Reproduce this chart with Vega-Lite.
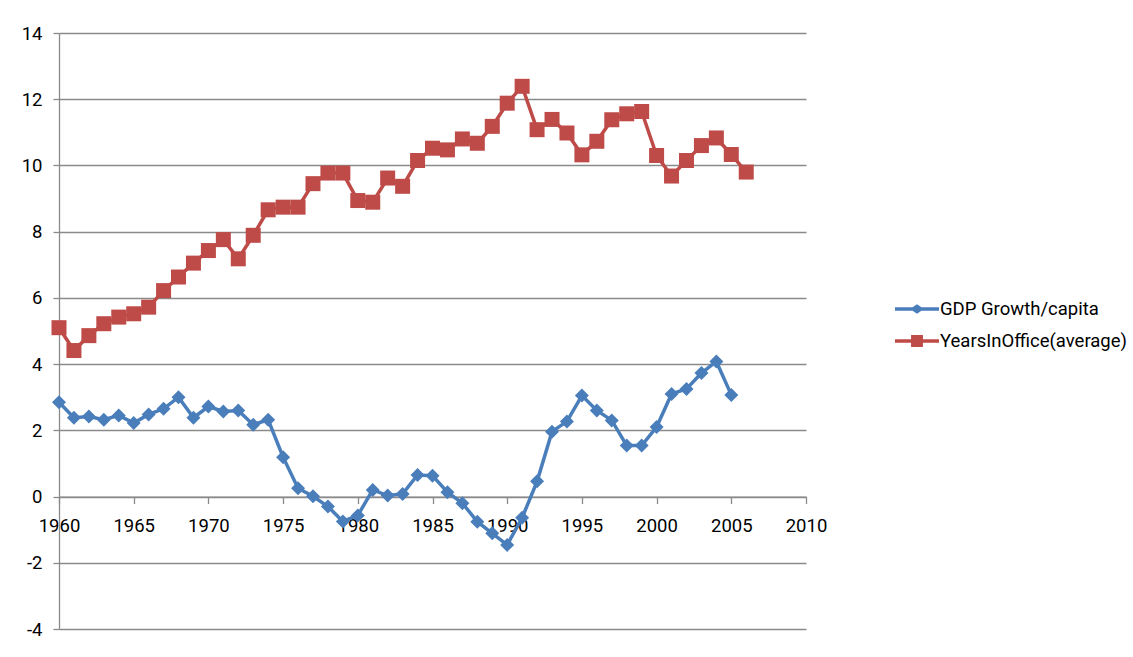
{
  "$schema": "https://vega.github.io/schema/vega-lite/v6.json",
  "autosize": "none",
  "width": 747,
  "height": 596,
  "padding": {"left": 59, "top": 33, "right": 327, "bottom": 28},
  "background": "white",
  "config": {
    "view": {"stroke": null},
    "font": "Roboto",
    "axis": {"labelFont": "Roboto", "labelFontSize": 18.5, "labelColor": "#000000", "domainColor": "#8a8a8a", "tickColor": "#8a8a8a", "gridColor": "#8a8a8a", "domainWidth": 1.3, "tickWidth": 1.3, "gridWidth": 1.3, "title": null}
  },
  "data": {"values": [
    {"year":1960,"series":"GDP Growth/capita","value":2.85},
    {"year":1961,"series":"GDP Growth/capita","value":2.38},
    {"year":1962,"series":"GDP Growth/capita","value":2.42},
    {"year":1963,"series":"GDP Growth/capita","value":2.32},
    {"year":1964,"series":"GDP Growth/capita","value":2.45},
    {"year":1965,"series":"GDP Growth/capita","value":2.22},
    {"year":1966,"series":"GDP Growth/capita","value":2.48},
    {"year":1967,"series":"GDP Growth/capita","value":2.65},
    {"year":1968,"series":"GDP Growth/capita","value":3.0},
    {"year":1969,"series":"GDP Growth/capita","value":2.38},
    {"year":1970,"series":"GDP Growth/capita","value":2.72},
    {"year":1971,"series":"GDP Growth/capita","value":2.57},
    {"year":1972,"series":"GDP Growth/capita","value":2.6},
    {"year":1973,"series":"GDP Growth/capita","value":2.17},
    {"year":1974,"series":"GDP Growth/capita","value":2.32},
    {"year":1975,"series":"GDP Growth/capita","value":1.19},
    {"year":1976,"series":"GDP Growth/capita","value":0.25},
    {"year":1977,"series":"GDP Growth/capita","value":0.01},
    {"year":1978,"series":"GDP Growth/capita","value":-0.3},
    {"year":1979,"series":"GDP Growth/capita","value":-0.75},
    {"year":1980,"series":"GDP Growth/capita","value":-0.57},
    {"year":1981,"series":"GDP Growth/capita","value":0.2},
    {"year":1982,"series":"GDP Growth/capita","value":0.03},
    {"year":1983,"series":"GDP Growth/capita","value":0.08},
    {"year":1984,"series":"GDP Growth/capita","value":0.65},
    {"year":1985,"series":"GDP Growth/capita","value":0.63},
    {"year":1986,"series":"GDP Growth/capita","value":0.13},
    {"year":1987,"series":"GDP Growth/capita","value":-0.2},
    {"year":1988,"series":"GDP Growth/capita","value":-0.76},
    {"year":1989,"series":"GDP Growth/capita","value":-1.11},
    {"year":1990,"series":"GDP Growth/capita","value":-1.46},
    {"year":1991,"series":"GDP Growth/capita","value":-0.64},
    {"year":1992,"series":"GDP Growth/capita","value":0.46},
    {"year":1993,"series":"GDP Growth/capita","value":1.96},
    {"year":1994,"series":"GDP Growth/capita","value":2.27},
    {"year":1995,"series":"GDP Growth/capita","value":3.05},
    {"year":1996,"series":"GDP Growth/capita","value":2.6},
    {"year":1997,"series":"GDP Growth/capita","value":2.3},
    {"year":1998,"series":"GDP Growth/capita","value":1.54},
    {"year":1999,"series":"GDP Growth/capita","value":1.54},
    {"year":2000,"series":"GDP Growth/capita","value":2.1},
    {"year":2001,"series":"GDP Growth/capita","value":3.1},
    {"year":2002,"series":"GDP Growth/capita","value":3.25},
    {"year":2003,"series":"GDP Growth/capita","value":3.73},
    {"year":2004,"series":"GDP Growth/capita","value":4.08},
    {"year":2005,"series":"GDP Growth/capita","value":3.07},
    {"year":1960,"series":"YearsInOffice(average)","value":5.1},
    {"year":1961,"series":"YearsInOffice(average)","value":4.41},
    {"year":1962,"series":"YearsInOffice(average)","value":4.86},
    {"year":1963,"series":"YearsInOffice(average)","value":5.22},
    {"year":1964,"series":"YearsInOffice(average)","value":5.42},
    {"year":1965,"series":"YearsInOffice(average)","value":5.52},
    {"year":1966,"series":"YearsInOffice(average)","value":5.72},
    {"year":1967,"series":"YearsInOffice(average)","value":6.22},
    {"year":1968,"series":"YearsInOffice(average)","value":6.63},
    {"year":1969,"series":"YearsInOffice(average)","value":7.05},
    {"year":1970,"series":"YearsInOffice(average)","value":7.43},
    {"year":1971,"series":"YearsInOffice(average)","value":7.76},
    {"year":1972,"series":"YearsInOffice(average)","value":7.18},
    {"year":1973,"series":"YearsInOffice(average)","value":7.89},
    {"year":1974,"series":"YearsInOffice(average)","value":8.66},
    {"year":1975,"series":"YearsInOffice(average)","value":8.74},
    {"year":1976,"series":"YearsInOffice(average)","value":8.74},
    {"year":1977,"series":"YearsInOffice(average)","value":9.45},
    {"year":1978,"series":"YearsInOffice(average)","value":9.77},
    {"year":1979,"series":"YearsInOffice(average)","value":9.77},
    {"year":1980,"series":"YearsInOffice(average)","value":8.94},
    {"year":1981,"series":"YearsInOffice(average)","value":8.89},
    {"year":1982,"series":"YearsInOffice(average)","value":9.62},
    {"year":1983,"series":"YearsInOffice(average)","value":9.37},
    {"year":1984,"series":"YearsInOffice(average)","value":10.15},
    {"year":1985,"series":"YearsInOffice(average)","value":10.52},
    {"year":1986,"series":"YearsInOffice(average)","value":10.47},
    {"year":1987,"series":"YearsInOffice(average)","value":10.8},
    {"year":1988,"series":"YearsInOffice(average)","value":10.67},
    {"year":1989,"series":"YearsInOffice(average)","value":11.18},
    {"year":1990,"series":"YearsInOffice(average)","value":11.88},
    {"year":1991,"series":"YearsInOffice(average)","value":12.39},
    {"year":1992,"series":"YearsInOffice(average)","value":11.08},
    {"year":1993,"series":"YearsInOffice(average)","value":11.39},
    {"year":1994,"series":"YearsInOffice(average)","value":10.98},
    {"year":1995,"series":"YearsInOffice(average)","value":10.32},
    {"year":1996,"series":"YearsInOffice(average)","value":10.73},
    {"year":1997,"series":"YearsInOffice(average)","value":11.38},
    {"year":1998,"series":"YearsInOffice(average)","value":11.56},
    {"year":1999,"series":"YearsInOffice(average)","value":11.63},
    {"year":2000,"series":"YearsInOffice(average)","value":10.3},
    {"year":2001,"series":"YearsInOffice(average)","value":9.68},
    {"year":2002,"series":"YearsInOffice(average)","value":10.15},
    {"year":2003,"series":"YearsInOffice(average)","value":10.6},
    {"year":2004,"series":"YearsInOffice(average)","value":10.83},
    {"year":2005,"series":"YearsInOffice(average)","value":10.33},
    {"year":2006,"series":"YearsInOffice(average)","value":9.8}
  ]},
  "encoding": {
    "x": {"field": "year", "type": "quantitative", "scale": {"domain": [1960, 2010], "nice": false, "zero": false},
      "axis": {"values": [1960,1965,1970,1975,1980,1985,1990,1995,2000,2005,2010], "format": "d", "grid": false, "tickSize": 7, "labelPadding": 13, "offset": -132.44, "labelFlush": false, "labelOverlap": false}},
    "y": {"field": "value", "type": "quantitative", "scale": {"domain": [-4, 14], "nice": false, "zero": false},
      "axis": {"values": [-4,-2,0,2,4,6,8,10,12,14], "labelExpr": "'' + datum.value", "grid": true, "tickSize": 6, "labelPadding": 11}}
  },
  "layer": [
    {"mark": {"type": "line", "strokeWidth": 3.5},
      "encoding": {
        "color": {"field": "series", "type": "nominal",
          "scale": {"domain": ["GDP Growth/capita", "YearsInOffice(average)"], "range": ["#4A7EBB", "#BE4B48"]},
          "legend": {"orient": "none", "legendX": 836, "legendY": 254, "title": null, "labelFont": "Roboto", "labelFontSize": 18.5, "labelColor": "#000000", "labelLimit": 400, "symbolSize": 1936, "symbolStrokeWidth": 0, "labelOffset": 1, "rowPadding": 0,
            "encode": {"symbols": {"update": {
              "shape": {"signal": "datum.value === 'GDP Growth/capita' ? 'M-1,-0.08L-0.2,-0.08L0,-0.22L0.2,-0.08L1,-0.08L1,0.08L0.2,0.08L0,0.22L-0.2,0.08L-1,0.08Z' : 'M-1,-0.08L-0.27,-0.08L-0.27,-0.27L0.27,-0.27L0.27,-0.08L1,-0.08L1,0.08L0.27,0.08L0.27,0.27L-0.27,0.27L-0.27,0.08L-1,0.08Z'"},
              "size": {"value": 1936},
              "fill": {"scale": "color", "field": "value"},
              "stroke": {"value": null},
              "strokeWidth": {"value": 0},
              "opacity": {"value": 1}
            }}}}
        }
      }},
    {"transform": [{"filter": "datum.series === 'GDP Growth/capita'"}],
      "mark": {"type": "point", "shape": "diamond", "filled": true, "opacity": 1, "color": "#4A7EBB", "size": 196}},
    {"transform": [{"filter": "datum.series === 'YearsInOffice(average)'"}],
      "mark": {"type": "point", "shape": "square", "filled": true, "opacity": 1, "color": "#BE4B48", "size": 225}}
  ]
}
